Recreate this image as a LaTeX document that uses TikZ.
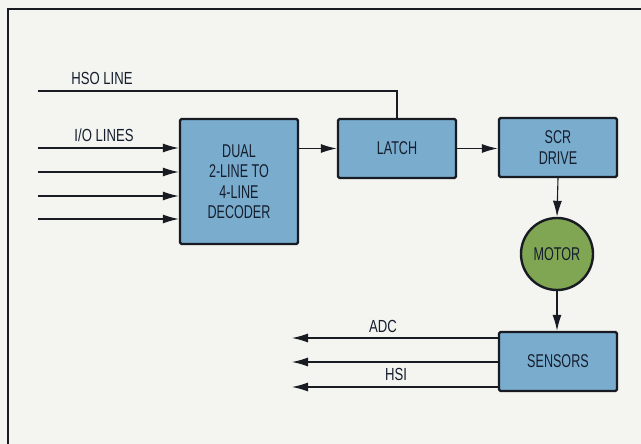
\documentclass[tikz,border=0pt]{standalone}
\usepackage{fontspec}
\setmainfont{Liberation Sans}[FakeStretch=0.68]
\newfontfamily\lblfont{Liberation Sans}[FakeStretch=0.75]
\usetikzlibrary{arrows.meta}
\definecolor{bg}{RGB}{244,244,241}
\definecolor{boxblue}{RGB}{122,172,206}
\definecolor{motorgreen}{RGB}{128,166,84}
\definecolor{ink}{RGB}{24,28,34}
\definecolor{txt}{RGB}{20,30,45}
\tikzset{
  blk/.style={draw=ink, line width=2.4pt, fill=boxblue, rounded corners=1.5pt,
    minimum width=118pt, align=center, text=txt, font=\fontsize{18.5}{20.5}\selectfont},
  motorc/.style={circle, draw=ink, line width=2.4pt, fill=motorgreen,
    minimum size=72pt, inner sep=0pt, text=txt, font=\fontsize{18.5}{20}\selectfont},
  wire/.style={draw=ink, line width=1.1pt},
  arr/.style={wire, -{Latex[length=16pt,width=9pt]}},
  lbl/.style={text=txt, font=\lblfont\fontsize{17.5}{19}\selectfont}
}
\begin{document}
\begin{tikzpicture}[x=1pt,y=-1pt]
\fill[bg] (0,0) rectangle (641,444);
\useasboundingbox (0,0) rectangle (641,444);
% frame
\draw[ink, line width=2pt] (8,444) -- (8,9) -- (641,9);
% blocks
\node[blk, minimum height=125pt] (dec) at (239,181.5) {DUAL\\2-LINE TO\\4-LINE\\DECODER};
\node[blk, minimum height=59pt] (latch) at (397,148.5) {LATCH};
\node[blk, minimum height=59pt] (scr) at (558,147.5) {SCR\\DRIVE};
\node[motorc] (motor) at (557,254) {MOTOR};
\node[blk, minimum height=59pt] (sens) at (558,361.5) {SENSORS};
% free ends
\coordinate (hso) at (38,91);
\coordinate (io1) at (38,148);
\coordinate (io2) at (38,172);
\coordinate (io3) at (38,196);
\coordinate (io4) at (38,219);
\coordinate (adc) at (292,338);
\coordinate (mid) at (292,362);
\coordinate (hsi) at (292,387);
% labels
\node[lbl] (hsol) at (102,78) {HSO LINE};
\node[lbl] (iol) at (104,135) {I/O LINES};
\node[lbl] (adcl) at (383,326) {ADC};
\node[lbl] (hsil) at (396,374) {HSI};
% connectors
\draw[wire] (hso) -| (latch.north);
\draw[arr] (io1) -- (io1 -| dec.west);
\draw[arr] (io2) -- (io2 -| dec.west);
\draw[arr] (io3) -- (io3 -| dec.west);
\draw[arr] (io4) -- (io4 -| dec.west);
\draw[arr] (dec.east |- latch) -- (latch.west);
\draw[arr] (latch.east) -- (latch.east -| scr.west);
\draw[arr] (scr.south) -- (motor.north);
\draw[arr] (motor.south) -- (motor.south |- sens.north);
\draw[arr] (adc -| sens.west) -- (adc);
\draw[arr] (mid -| sens.west) -- (mid);
\draw[arr] (hsi -| sens.west) -- (hsi);
\end{tikzpicture}
\end{document}
